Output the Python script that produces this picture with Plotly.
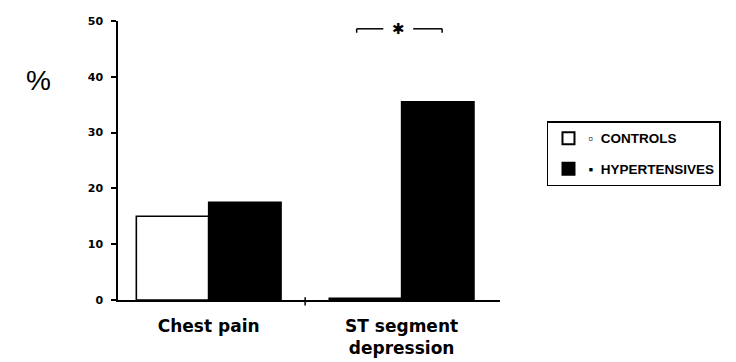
import plotly.graph_objects as go

# Data
categories = [0, 1]
category_labels = ["Chest pain", "ST segment<br>depression"]
controls = [15.0, 0.3]
hypertensives = [17.5, 35.5]
y_ticks = [0, 10, 20, 30, 40, 50]

FONT = "Liberation Sans"

fig = go.Figure()
fig.add_trace(go.Bar(
    x=categories, y=controls, name="\u25ab  CONTROLS", legendgroup="c",
    marker=dict(color="white", line=dict(color="black", width=1.6)),
))
fig.add_trace(go.Bar(
    x=categories, y=hypertensives, name="\u25aa  HYPERTENSIVES", legendgroup="h",
    marker=dict(color="black", line=dict(color="black", width=1.6)),
))

fig.update_layout(
    width=736, height=362,
    margin=dict(l=118, r=236, t=21, b=62),
    paper_bgcolor="white", plot_bgcolor="white",
    barmode="group", bargap=0.25, bargroupgap=0,
    showlegend=True,
    legend=dict(
        x=1.123, y=0.64, xanchor="left", yanchor="top",
        bordercolor="black", borderwidth=1.5,
        font=dict(family=FONT, size=13.5, color="black", weight="bold"),
        itemsizing="constant", traceorder="grouped", tracegroupgap=10,
        itemwidth=30,
    ),
    font=dict(family=FONT, color="black"),
)

fig.update_xaxes(
    range=[-0.47, 1.51], tickmode="array", tickvals=categories,
    ticktext=category_labels, ticks="", showgrid=False, zeroline=False,
    showline=True, linecolor="black", linewidth=1.5, ticklabelstandoff=10,
    automargin=False,
    tickfont=dict(family="DejaVu Sans", size=17, color="black", weight="bold"),
)
fig.update_yaxes(
    range=[0, 50], tickmode="array", tickvals=y_ticks,
    ticks="outside", ticklen=5, tickwidth=1.5, tickcolor="black",
    showgrid=False, zeroline=False, ticklabelstandoff=6, automargin=False,
    showline=True, linecolor="black", linewidth=1.5,
    tickfont=dict(family="DejaVu Sans", size=11, color="black", weight="bold"),
)

# Middle tick on x axis between groups
fig.add_shape(type="line", xref="x", yref="paper", x0=0.5, x1=0.5, y0=-0.02, y1=0.01,
              line=dict(color="black", width=1.5))

# Significance bracket over ST segment depression
br_y = 48.6
fig.add_shape(type="line", xref="x", yref="y", x0=0.767, x1=0.905, y0=br_y, y1=br_y,
              line=dict(color="black", width=1.5))
fig.add_shape(type="line", xref="x", yref="y", x0=1.06, x1=1.21, y0=br_y, y1=br_y,
              line=dict(color="black", width=1.5))
fig.add_shape(type="line", xref="x", yref="y", x0=0.767, x1=0.767, y0=br_y, y1=br_y - 0.7,
              line=dict(color="black", width=1.5))
fig.add_shape(type="line", xref="x", yref="y", x0=1.21, x1=1.21, y0=br_y, y1=br_y - 0.7,
              line=dict(color="black", width=1.5))
fig.add_annotation(x=0.985, y=br_y, xref="x", yref="y", text="\u2731", showarrow=False,
                   xanchor="center", yanchor="middle",
                   font=dict(family="DejaVu Sans", size=15, color="black"))

# Axis unit
fig.add_annotation(xref="paper", yref="paper", x=(38 - 118) / 382, y=(300 - 80) / 279,
                   xanchor="center", yanchor="middle", text="%", showarrow=False,
                   font=dict(family=FONT, size=28, color="black"))

fig.write_html("out.html")
